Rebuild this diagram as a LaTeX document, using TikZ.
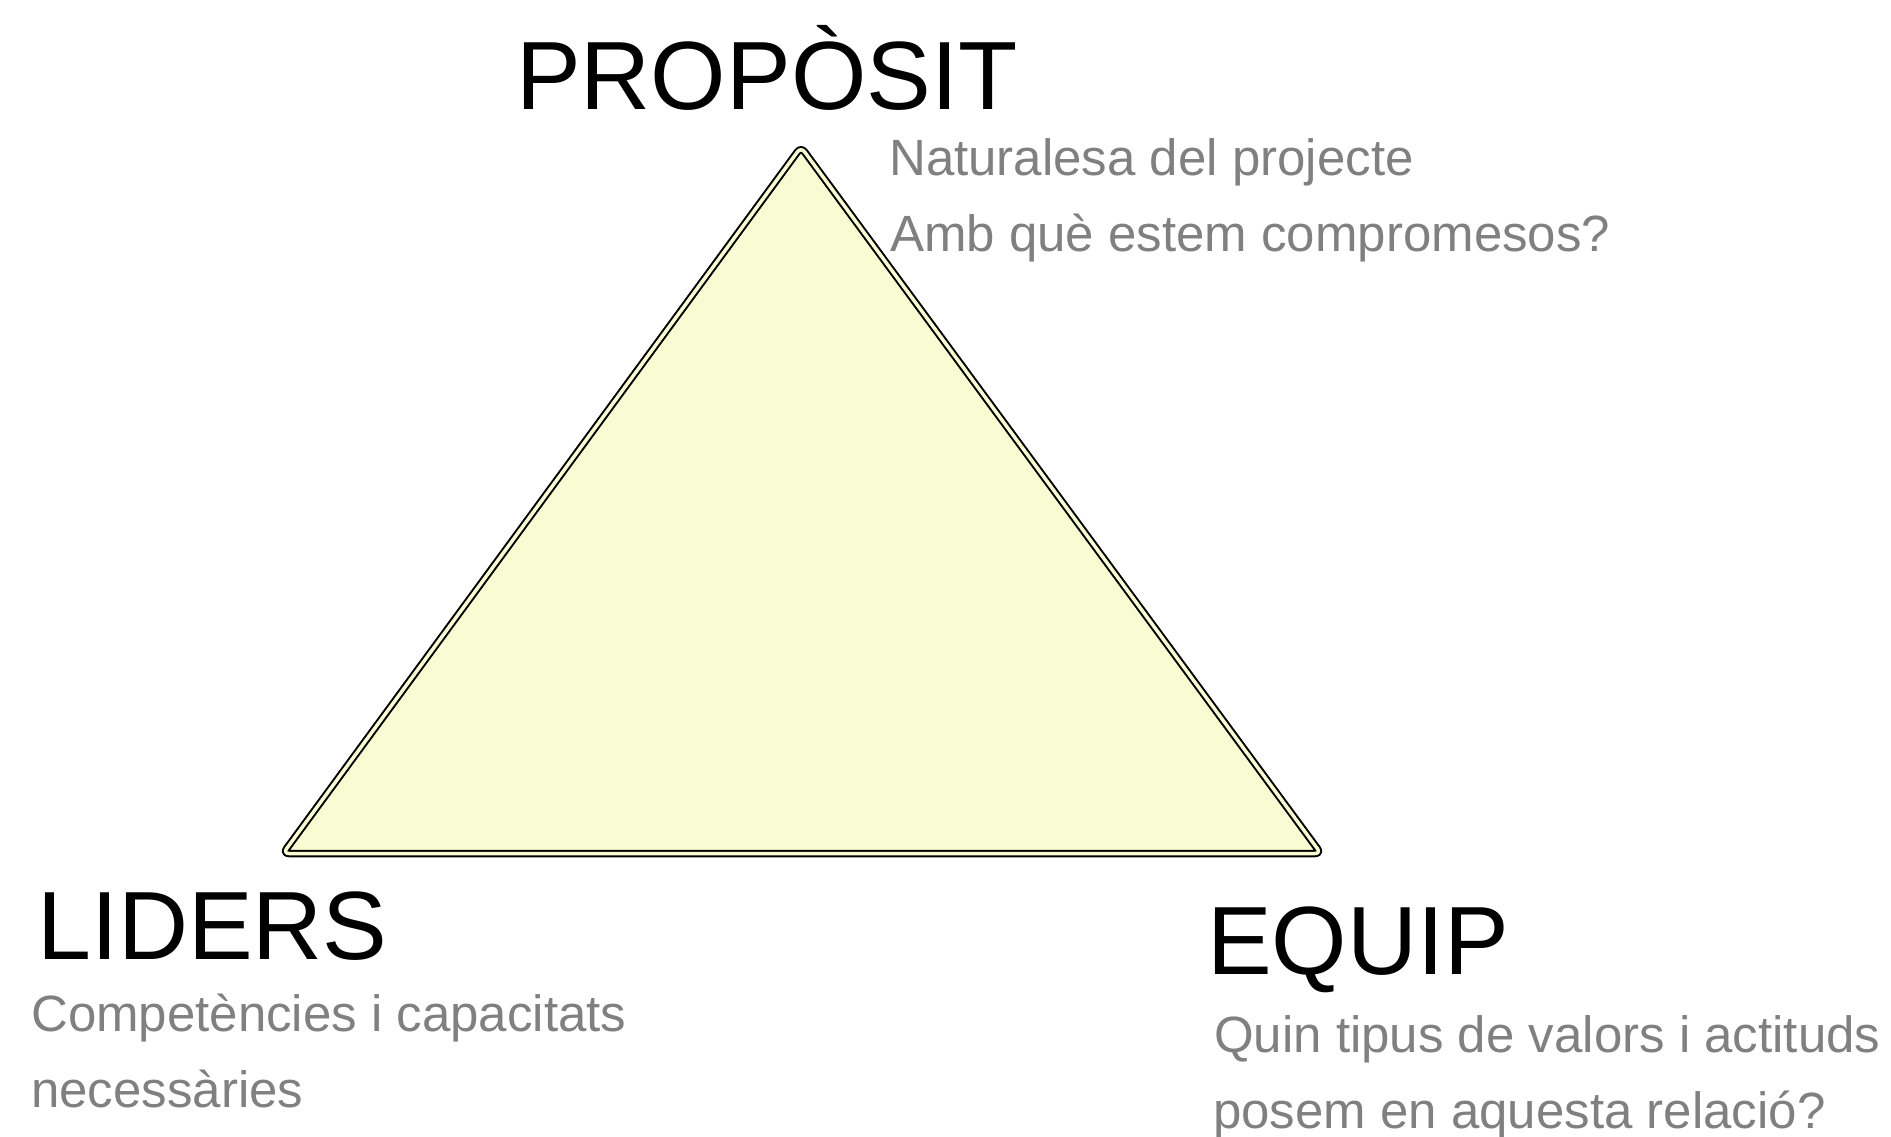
\documentclass[tikz,border=0pt]{standalone}
\usepackage{fontspec}
\setmainfont{Liberation Sans}
\definecolor{trifill}{RGB}{248,252,210}
\definecolor{subgray}{RGB}{128,128,128}
\begin{document}
\begin{tikzpicture}[x=1pt,y=-1pt,
  title/.style={anchor=base west,inner sep=0pt,font=\fontsize{97}{97}\selectfont,text=black},
  sub/.style={anchor=base west,inner sep=0pt,font=\fontsize{51}{51}\selectfont,text=subgray},
  tri/.style={fill=trifill,draw=black,line width=2pt,double=trifill,double distance=3.5pt,rounded corners=6pt,line join=round}]
\useasboundingbox (0,0) rectangle (1891,1136);
\coordinate (apex) at (801,147);
\coordinate (bl) at (283,853.5);
\coordinate (br) at (1321,853.5);
\draw[tri] (apex) -- (br) -- (bl) -- cycle;
\node[title] (proposit) at (516,109) {PROPÒSIT};
\node[sub] (nat) at (889,175) {Naturalesa del projecte};
\node[sub] (amb) at (890,251) {Amb què estem compromesos?};
\node[title] (liders) at (37,959) {LIDERS};
\node[sub] (comp) at (31,1031) {Competències i capacitats};
\node[sub] (nec) at (31,1107) {necessàries};
\node[title] (equip) at (1207,974) {EQUIP};
\node[sub] (quin) at (1214,1052) {Quin tipus de valors i actituds};
\node[sub] (posem) at (1213,1128) {posem en aquesta relació?};
\end{tikzpicture}
\end{document}
